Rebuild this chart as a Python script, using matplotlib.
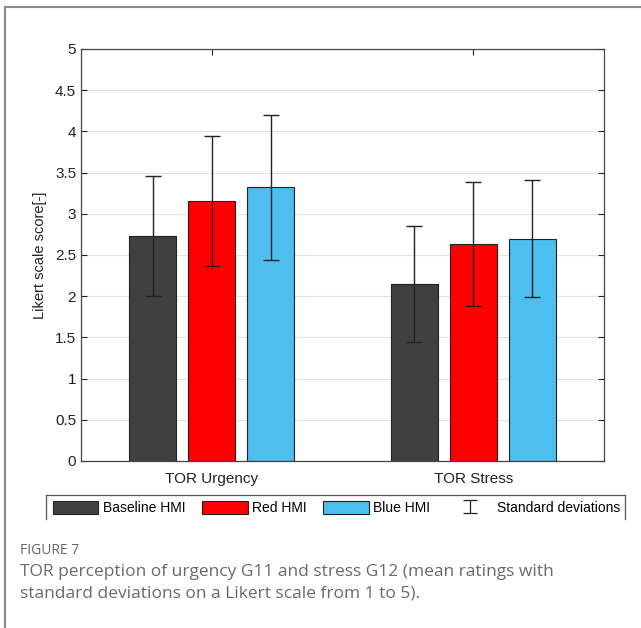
import numpy as np
import matplotlib.pyplot as plt
from matplotlib.lines import Line2D

groups = ["TOR Urgency", "TOR Stress"]
series = ["Baseline HMI", "Red HMI", "Blue HMI"]
means = {
    "Baseline HMI": [2.73, 2.15],
    "Red HMI": [3.16, 2.63],
    "Blue HMI": [3.32, 2.70],
}
sds = {
    "Baseline HMI": [0.73, 0.70],
    "Red HMI": [0.79, 0.75],
    "Blue HMI": [0.88, 0.71],
}
colors = {"Baseline HMI": "#404040", "Red HMI": "#ff0000", "Blue HMI": "#4dbeee"}
yticks = np.arange(0, 5.01, 0.5)

plt.rcParams['font.family'] = ['Liberation Sans', 'DejaVu Sans']

fig = plt.figure(figsize=(6.41, 6.28), dpi=100)
ax = fig.add_axes([81/641, 1-461/628, 523/641, 412/628])

x = np.arange(1, len(groups) + 1)
offsets = [-0.225, 0.0, 0.225]
width = 0.18
for name, off in zip(series, offsets):
    ax.bar(x + off, means[name], width, color=colors[name], edgecolor="#222222",
           linewidth=0.8, label=name, zorder=2)
    ax.errorbar(x + off, means[name], yerr=sds[name], fmt='none', ecolor="#222222",
                elinewidth=1, capsize=6, capthick=1, zorder=3)

sd_handle = ax.errorbar([np.nan], [np.nan], yerr=[0.1], fmt='none', ecolor="#222222",
                        elinewidth=0.9, capsize=5, capthick=0.9, label="Standard deviations")

ax.set_xlim(0.5, 2.5)
ax.set_ylim(0, 5)
ax.set_yticks(yticks)
ax.set_yticklabels([f"{v:g}" for v in yticks])
ax.set_xticks(x)
ax.set_xticklabels(groups)
ax.yaxis.grid(True, color="#e3e3e3", lw=0.8, zorder=0)
ax.set_axisbelow(True)
ax.tick_params(direction='in', top=True, right=True, labelsize=11, colors="#222222",
               length=4, width=0.8)
ax.tick_params(axis='x', pad=8)
for s in ax.spines.values():
    s.set_color("#444444")
    s.set_linewidth(0.9)
ax.set_ylabel("Likert scale score[-]", fontsize=10.5, color="#222222", labelpad=6)

h, l = ax.get_legend_handles_labels()
order = series + ["Standard deviations"]
hd = dict(zip(l, h))
leg = fig.legend([hd[k] for k in order], order, ncol=4, frameon=False,
                 loc='center left', bbox_to_anchor=(47/641, 1-508/628),
                 fontsize=10, handlelength=3.3, handleheight=1.15, handletextpad=0.3,
                 columnspacing=1.2, borderaxespad=0)

# legend frame: top and sides only
lc = "#555555"
fig.add_artist(Line2D([46/641, 625/641], [1-495/628, 1-495/628], transform=fig.transFigure, color=lc, lw=0.9))
fig.add_artist(Line2D([46/641, 46/641], [1-495/628, 1-519/628], transform=fig.transFigure, color=lc, lw=0.9))
fig.add_artist(Line2D([625/641, 625/641], [1-495/628, 1-519/628], transform=fig.transFigure, color=lc, lw=0.9))

# outer frame (left and top visible)
fc = "#8a8a8a"
fig.add_artist(Line2D([4.5/641, 641/641], [1-7/628, 1-7/628], transform=fig.transFigure, color=fc, lw=1.5))
fig.add_artist(Line2D([4.5/641, 4.5/641], [1-7/628, 0], transform=fig.transFigure, color=fc, lw=1.5))

cap_font = ['Open Sans', 'DejaVu Sans']
fig.text(20/641, 1-551/628, "FIGURE 7", fontsize=10, color="#666666", family=cap_font,
         va='center', ha='left')
fig.text(20/641, 1-572/628, "TOR perception of urgency G11 and stress G12 (mean ratings with",
         fontsize=12.5, color="#6a6a6a", family=cap_font, va='center', ha='left')
fig.text(20/641, 1-594/628, "standard deviations on a Likert scale from 1 to 5).",
         fontsize=12.5, color="#6a6a6a", family=cap_font, va='center', ha='left')

fig.savefig("out.png", dpi=100)
